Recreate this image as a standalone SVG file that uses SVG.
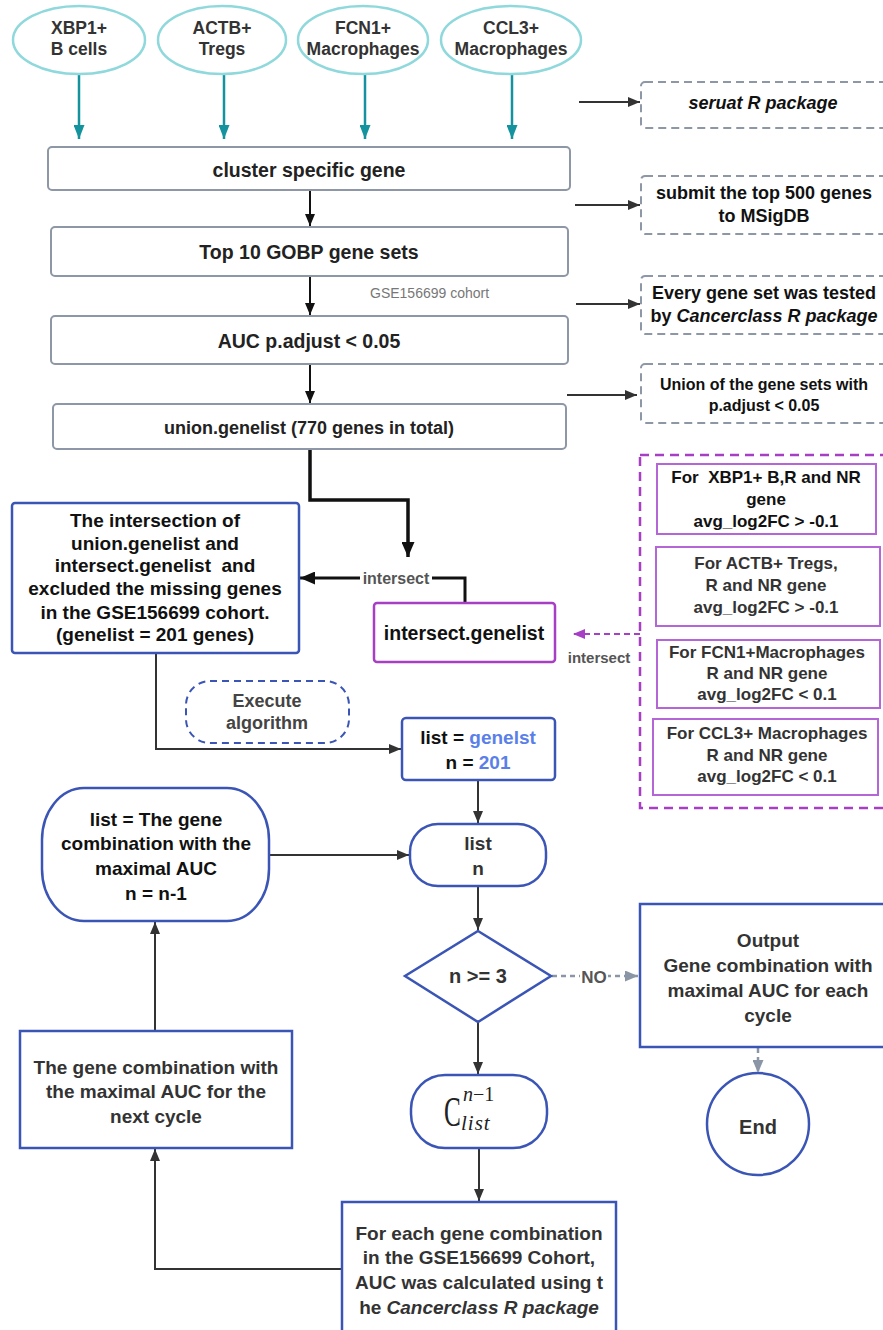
<svg xmlns="http://www.w3.org/2000/svg" width="883" height="1330" viewBox="0 0 883 1330">
<style>
text{font-family:"Liberation Sans",Arial,sans-serif;font-weight:bold;text-anchor:middle}
.t{font-size:19.5px;fill:#222}
.d{font-size:19px;fill:#333}
.k{font-size:19px;fill:#111}
.el{fill:#fff;stroke:#8fd8dc;stroke-width:2.5}
.et{font-size:17.5px;fill:#333}
.gb{fill:#fff;stroke:#8e97a5;stroke-width:2}
.db{fill:#fff;stroke:#8e97a5;stroke-width:2;stroke-dasharray:8 5}
.rt{font-size:18px;fill:#111}
.bb{fill:#fff;stroke:#3a55b5;stroke-width:2.5}
.pb{fill:#fff;stroke:#b465d6;stroke-width:2}
.pt{font-size:17px}
.c{fill:none;stroke:#333;stroke-width:2}
.ck{fill:none;stroke:#111;stroke-width:2}
.ct{fill:none;stroke:#14939e;stroke-width:2.5}
.lbl{font-size:16px;fill:#555}
.it{font-style:italic}
.mth{font-family:"Liberation Serif","DejaVu Serif",serif;font-weight:normal;fill:#222;text-anchor:start}
</style>
<defs>
<marker id="ah" markerUnits="userSpaceOnUse" markerWidth="12" markerHeight="10" refX="12" refY="5" orient="auto"><path d="M0,0L12,5L0,10z" fill="#333"/></marker>
<marker id="ahk" markerUnits="userSpaceOnUse" markerWidth="12" markerHeight="10" refX="12" refY="5" orient="auto"><path d="M0,0L12,5L0,10z" fill="#111"/></marker>
<marker id="ahK" markerUnits="userSpaceOnUse" markerWidth="15" markerHeight="13" refX="15" refY="6.5" orient="auto"><path d="M0,0L15,6.5L0,13z" fill="#111"/></marker>
<marker id="aht" markerUnits="userSpaceOnUse" markerWidth="14" markerHeight="11" refX="14" refY="5.5" orient="auto"><path d="M0,0L14,5.5L0,11z" fill="#14939e"/></marker>
<marker id="ahg" markerUnits="userSpaceOnUse" markerWidth="13" markerHeight="11" refX="13" refY="5.5" orient="auto"><path d="M0,0L13,5.5L0,11z" fill="#8a96a6"/></marker>
<marker id="ahp" markerUnits="userSpaceOnUse" markerWidth="12" markerHeight="10" refX="12" refY="5" orient="auto"><path d="M0,0L12,5L0,10z" fill="#a63fc4"/></marker>
</defs>
<rect width="883" height="1330" fill="#fff"/>

<g id="connectors">
<line class="ct" x1="79" y1="75" x2="79" y2="139" marker-end="url(#aht)"/>
<line class="ct" x1="224" y1="75" x2="224" y2="139" marker-end="url(#aht)"/>
<line class="ct" x1="365" y1="75" x2="365" y2="139" marker-end="url(#aht)"/>
<line class="ct" x1="512" y1="75" x2="512" y2="139" marker-end="url(#aht)"/>
<line class="ck" x1="310" y1="190" x2="310" y2="226" marker-end="url(#ahk)"/>
<line class="ck" x1="310" y1="276" x2="310" y2="315" marker-end="url(#ahk)"/>
<line class="ck" x1="310" y1="364" x2="310" y2="403" marker-end="url(#ahk)"/>
<line class="c" x1="579" y1="102" x2="640" y2="102" marker-end="url(#ah)"/>
<line class="c" x1="575" y1="205" x2="640" y2="205" marker-end="url(#ah)"/>
<line class="c" x1="576" y1="304" x2="640" y2="304" marker-end="url(#ah)"/>
<line class="c" x1="567" y1="395" x2="637" y2="395" marker-end="url(#ah)"/>
<path d="M310,449V500H408V557" fill="none" stroke="#111" stroke-width="3.5" marker-end="url(#ahK)"/>
<path d="M465,603V578H300" fill="none" stroke="#111" stroke-width="3" marker-end="url(#ahK)"/>
<rect x="360" y="566" width="72" height="22" fill="#fff"/>
<text class="lbl" x="396" y="584">intersect</text>
<line x1="640" y1="634" x2="573" y2="634" stroke="#a63fc4" stroke-width="2" stroke-dasharray="6 4" marker-end="url(#ahp)"/>
<text class="lbl" x="599" y="663" style="font-size:15px">intersect</text>
<path class="c" d="M156,653V749H401" marker-end="url(#ah)"/>
<line class="c" x1="478" y1="780" x2="478" y2="823" marker-end="url(#ah)"/>
<line class="c" x1="269" y1="855" x2="409" y2="855" marker-end="url(#ah)"/>
<line class="c" x1="478" y1="886" x2="478" y2="930" marker-end="url(#ah)"/>
<line x1="552" y1="976" x2="638" y2="976" stroke="#8a96a6" stroke-width="2.5" stroke-dasharray="5 4" marker-end="url(#ahg)"/>
<rect x="580" y="964" width="28" height="22" fill="#fff"/>
<text class="lbl" x="594" y="983" style="font-size:17px">NO</text>
<line x1="758" y1="1048" x2="758" y2="1073" stroke="#8a96a6" stroke-width="2.5" stroke-dasharray="5 4" marker-end="url(#ahg)"/>
<line class="c" x1="478" y1="1022" x2="478" y2="1074" marker-end="url(#ah)"/>
<line class="c" x1="479" y1="1148" x2="479" y2="1201" marker-end="url(#ah)"/>
<path class="c" d="M342,1269H155V1149" marker-end="url(#ah)"/>
<line class="c" x1="155" y1="1031" x2="155" y2="922" marker-end="url(#ah)"/>
</g>

<g id="xbp1"><ellipse class="el" cx="79" cy="40" rx="66" ry="34"/><text class="et" x="79" y="34">XBP1+</text><text class="et" x="79" y="55">B cells</text></g>
<g id="actb"><ellipse class="el" cx="222" cy="40" rx="64" ry="34"/><text class="et" x="222" y="34">ACTB+</text><text class="et" x="222" y="55">Tregs</text></g>
<g id="fcn1"><ellipse class="el" cx="363" cy="40" rx="65" ry="34"/><text class="et" x="363" y="34">FCN1+</text><text class="et" x="363" y="55">Macrophages</text></g>
<g id="ccl3"><ellipse class="el" cx="511" cy="40" rx="70" ry="34"/><text class="et" x="511" y="34">CCL3+</text><text class="et" x="511" y="55">Macrophages</text></g>

<g id="cluster"><rect class="gb" x="48" y="147" width="522" height="43" rx="4"/><text class="t" x="309" y="177">cluster specific gene</text></g>
<g id="top10"><rect class="gb" x="51" y="227" width="517" height="49" rx="4"/><text class="t" x="309" y="259">Top 10 GOBP gene sets</text></g>
<text id="gse-label" x="370" y="298" style="font-size:14px;font-weight:normal;fill:#777;text-anchor:start">GSE156699 cohort</text>
<g id="auc"><rect class="gb" x="51" y="316" width="517" height="48" rx="4"/><text class="t" x="309" y="348">AUC p.adjust &lt; 0.05</text></g>
<g id="union"><rect class="gb" x="53" y="404" width="513" height="45" rx="4"/><text class="t" x="309" y="434" style="font-size:18px">union.genelist (770 genes in total)</text></g>

<g id="seurat"><rect class="db" x="641" y="82" width="260" height="46" rx="4"/><text class="rt it" x="763" y="109">seruat R package</text></g>
<g id="msigdb"><rect class="db" x="641" y="176" width="260" height="58" rx="4"/><text class="rt" x="764" y="199">submit the top 500 genes</text><text class="rt" x="764" y="222">to MSigDB</text></g>
<g id="cancerclass"><rect class="db" x="641" y="276" width="260" height="58" rx="4"/><text class="rt" x="764" y="299">Every gene set was tested</text><text class="rt" x="764" y="322">by <tspan class="it">Cancerclass R package</tspan></text></g>
<g id="union-note"><rect class="db" x="641" y="364" width="260" height="59" rx="4"/><text class="rt" x="764" y="390" style="font-size:16px">Union of the gene sets with</text><text class="rt" x="764" y="411" style="font-size:16px">p.adjust &lt; 0.05</text></g>

<g id="intersection"><rect class="bb" x="12" y="503" width="287" height="150" rx="3"/>
<text class="k" x="155" y="527">The intersection of</text>
<text class="k" x="155" y="550">union.genelist and</text>
<text class="k" x="155" y="572" xml:space="preserve">intersect.genelist  and</text>
<text class="k" x="155" y="595">excluded the missing genes</text>
<text class="k" x="155" y="619">in the GSE156699 cohort.</text>
<text class="k" x="155" y="641">(genelist = 201 genes)</text></g>

<g id="intersect-genelist"><rect x="374" y="603" width="181" height="59" rx="3" fill="#fff" stroke="#a63fc4" stroke-width="2.5"/><text class="k" x="464" y="640" style="font-size:19.5px">intersect.genelist</text></g>

<g id="criteria">
<rect x="640" y="455" width="260" height="353" fill="none" stroke="#a63fc4" stroke-width="2.5" stroke-dasharray="9 6"/>
<g id="crit-xbp1"><rect class="pb" x="657" y="464" width="219" height="70"/><text class="pt" x="766" y="483" fill="#111" xml:space="preserve">For  XBP1+ B,R and NR</text><text class="pt" x="766" y="505" fill="#111">gene</text><text class="pt" x="766" y="527" fill="#111">avg_log2FC &gt; -0.1</text></g>
<g id="crit-actb"><rect class="pb" x="656" y="547" width="224" height="79"/><text class="pt" x="766" y="569" fill="#333">For ACTB+ Tregs,</text><text class="pt" x="766" y="591" fill="#333">R and NR gene</text><text class="pt" x="766" y="613" fill="#333">avg_log2FC &gt; -0.1</text></g>
<g id="crit-fcn1"><rect class="pb" x="657" y="640" width="223" height="68"/><text class="pt" x="767" y="658" fill="#333">For FCN1+Macrophages</text><text class="pt" x="767" y="679" fill="#333">R and NR gene</text><text class="pt" x="767" y="700" fill="#333">avg_log2FC &lt; 0.1</text></g>
<g id="crit-ccl3"><rect class="pb" x="653" y="719" width="225" height="76"/><text class="pt" x="767" y="739" fill="#333">For CCL3+ Macrophages</text><text class="pt" x="767" y="761" fill="#333">R and NR gene</text><text class="pt" x="767" y="782" fill="#333">avg_log2FC &lt; 0.1</text></g>
</g>

<g id="execute"><rect x="186" y="681" width="163" height="62" rx="24" fill="#fff" stroke="#3a55b5" stroke-width="2" stroke-dasharray="7 5"/><text x="267" y="707" style="font-size:18px;fill:#444">Execute</text><text x="267" y="729" style="font-size:18px;fill:#444">algorithm</text></g>

<g id="init"><rect class="bb" x="402" y="718" width="153" height="62" rx="4"/><text class="k" x="478" y="744">list = <tspan fill="#5b7fe8">genelst</tspan></text><text class="k" x="478" y="769">n = <tspan fill="#5b7fe8">201</tspan></text></g>

<g id="listn"><rect class="bb" x="410" y="824" width="136" height="62" rx="28"/><text class="d" x="478" y="850">list</text><text class="d" x="478" y="875">n</text></g>

<g id="update"><rect class="bb" x="42" y="788" width="227" height="133" rx="42" ry="52"/>
<text class="k" x="156" y="826">list = The gene</text>
<text class="k" x="156" y="850">combination with the</text>
<text class="k" x="156" y="875">maximal AUC</text>
<text class="k" x="156" y="900">n = n-1</text></g>

<g id="decision"><polygon class="bb" points="478,931 551,976 478,1022 405,976"/><text class="d" x="478" y="983" style="font-size:20px">n &gt;= 3</text></g>

<g id="output"><rect class="bb" x="640" y="904" width="260" height="143"/>
<text class="d" x="768" y="947">Output</text>
<text class="d" x="768" y="972">Gene combination with</text>
<text class="d" x="768" y="997">maximal AUC for each</text>
<text class="d" x="768" y="1022">cycle</text></g>

<g id="end"><circle class="bb" cx="758" cy="1124" r="51"/><text class="d" x="758" y="1134" style="font-size:20px">End</text></g>

<g id="combos"><rect class="bb" x="411" y="1075" width="136" height="73" rx="34"/>
<text class="mth" transform="translate(444,1126) scale(0.6,1)" style="font-size:42px">C</text>
<text class="mth" x="463" y="1101" style="font-size:20px"><tspan font-style="italic">n</tspan>−1</text>
<text class="mth" x="461" y="1130" style="font-size:21px;font-style:italic;letter-spacing:1px">list</text></g>

<g id="calc"><rect class="bb" x="342" y="1202" width="274" height="140"/>
<text class="d" x="479" y="1240">For each gene combination</text>
<text class="d" x="479" y="1264">in the GSE156699 Cohort,</text>
<text class="d" x="479" y="1289">AUC was calculated using t</text>
<text class="d" x="479" y="1314">he <tspan class="it">Cancerclass R package</tspan></text></g>

<g id="next"><rect class="bb" x="20" y="1031" width="272" height="117"/>
<text class="d" x="156" y="1074">The gene combination with</text>
<text class="d" x="156" y="1098">the maximal AUC for the</text>
<text class="d" x="156" y="1123">next cycle</text></g>
</svg>
